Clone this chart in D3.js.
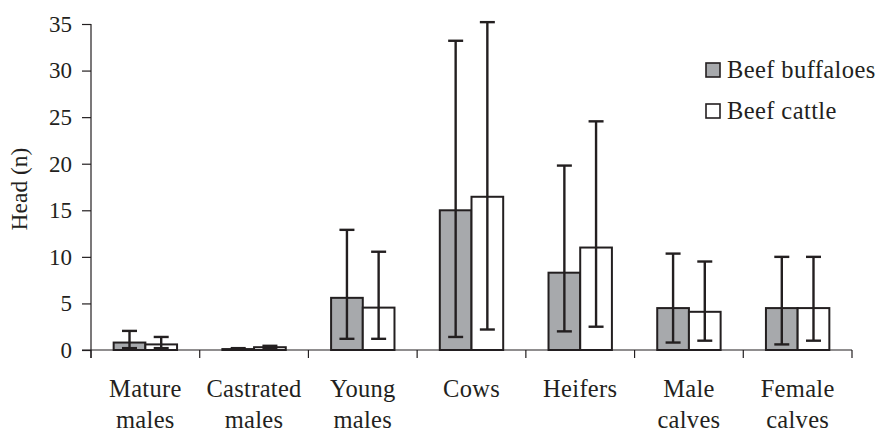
<!DOCTYPE html>
<html>
<head>
<meta charset="utf-8">
<script src="https://cdn.jsdelivr.net/npm/d3@7"></script>
<style>
  html, body { margin: 0; padding: 0; background: #fff; }
  svg { display: block; }
  svg text { font-family: "Liberation Serif", Tinos, "Times New Roman", Times, "DejaVu Serif", serif; fill: #231f20; }
</style>
</head>
<body>
<svg id="chart" width="878" height="432"></svg>
<script>
// Herd composition: mean head count per animal class, with range bars
const categories = [
  ["Mature", "males"], ["Castrated", "males"], ["Young", "males"],
  ["Cows"], ["Heifers"], ["Male", "calves"], ["Female", "calves"]
];
const seriesNames = ["Beef buffaloes", "Beef cattle"];
const buffaloes     = [0.8, 0.1, 5.6, 15.0, 8.3, 4.5, 4.5];
const buffaloesLow  = [0.2, 0.05, 1.2, 1.4, 2.0, 0.8, 0.6];
const buffaloesHigh = [2.05, 0.2, 12.9, 33.2, 19.8, 10.35, 10.0];
const cattle        = [0.6, 0.3, 4.55, 16.45, 11.0, 4.1, 4.5];
const cattleLow     = [0.2, 0.15, 1.2, 2.2, 2.5, 1.0, 1.0];
const cattleHigh    = [1.4, 0.45, 10.55, 35.2, 24.55, 9.5, 10.0];
const yTicks = [0, 5, 10, 15, 20, 25, 30, 35];

const fills = ["#a7a9ac", "#ffffff"];
const ink = "#231f20";
const serif = '"Liberation Serif", Tinos, "Times New Roman", Times, "DejaVu Serif", serif';

const svg = d3.select("#chart");
const mLeft = 91, mRight = 852, mTop = 24, mBottom = 350;

const keys = categories.map(c => c.join(" "));
const x = d3.scaleBand().domain(keys).range([mLeft, mRight]).padding(0);
const x1 = d3.scaleBand().domain(seriesNames).range([0, x.bandwidth()])
  .paddingInner(0).paddingOuter(0.715);
const y = d3.scaleLinear().domain([0, 35]).range([mBottom, mTop]);

const rows = keys.map((k, i) => ({
  key: k,
  values: [
    { s: seriesNames[0], v: buffaloes[i], lo: buffaloesLow[i], hi: buffaloesHigh[i] },
    { s: seriesNames[1], v: cattle[i], lo: cattleLow[i], hi: cattleHigh[i] }
  ]
}));

// Bars
const groups = svg.append("g").selectAll("g").data(rows).join("g")
  .attr("transform", d => `translate(${x(d.key)},0)`);

groups.selectAll("rect").data(d => d.values).join("rect")
  .attr("x", d => x1(d.s))
  .attr("y", d => y(d.v))
  .attr("width", x1.bandwidth())
  .attr("height", d => y(0) - y(d.v))
  .attr("fill", (d, i) => fills[i])
  .attr("stroke", ink)
  .attr("stroke-width", 2);

// Range bars
const capHalf = 7.5;
const cx = d => x1(d.s) + x1.bandwidth() / 2;
const eb = groups.selectAll("g.err").data(d => d.values).join("g").attr("class", "err")
  .attr("stroke", ink).attr("stroke-width", 2.4);
eb.append("line")
  .attr("x1", cx).attr("x2", cx)
  .attr("y1", d => y(d.lo)).attr("y2", d => y(d.hi));
eb.append("line")
  .attr("x1", d => cx(d) - capHalf).attr("x2", d => cx(d) + capHalf)
  .attr("y1", d => y(d.hi)).attr("y2", d => y(d.hi));
eb.append("line")
  .attr("x1", d => cx(d) - capHalf).attr("x2", d => cx(d) + capHalf)
  .attr("y1", d => y(d.lo)).attr("y2", d => y(d.lo));

// Y axis
const yAxis = svg.append("g").attr("transform", `translate(${mLeft},0)`)
  .call(d3.axisLeft(y).tickValues(yTicks).tickSize(9).tickPadding(10));
yAxis.attr("font-family", serif);
yAxis.select(".domain").attr("d", `M0,${mTop}V${mBottom + 8}`);
yAxis.selectAll("line, path").attr("stroke", ink).attr("stroke-width", 1.2);
yAxis.selectAll("text").attr("font-size", 23).attr("fill", ink);

// X axis: ticks at category boundaries
const xEdges = keys.map(k => x(k)).concat([x(keys[keys.length - 1]) + x.bandwidth()]);
const xAxis = svg.append("g").attr("transform", `translate(0,${mBottom})`);
xAxis.append("line").attr("x1", mLeft - 9).attr("x2", mRight).attr("y1", 0).attr("y2", 0)
  .attr("stroke", ink).attr("stroke-width", 1.2);
xAxis.selectAll("line.tick").data(xEdges).join("line").attr("class", "tick")
  .attr("x1", d => d).attr("x2", d => d).attr("y1", 0).attr("y2", 8)
  .attr("stroke", ink).attr("stroke-width", 1.2);

// Category labels
const lbl = svg.append("g").selectAll("text").data(rows).join("text")
  .attr("text-anchor", "middle")
  .attr("font-size", 24.5)
  .attr("letter-spacing", 0.3)
  .attr("x", d => x(d.key) + x.bandwidth() / 2)
  .attr("y", 397);
lbl.selectAll("tspan").data((d, i) => categories[i]).join("tspan")
  .attr("x", function () { return d3.select(this.parentNode).attr("x"); })
  .attr("dy", (d, i) => i === 0 ? 0 : 31)
  .text(d => d);

// Y axis title
svg.append("text")
  .attr("transform", `translate(27,${(mTop + mBottom) / 2 + 2}) rotate(-90)`)
  .attr("text-anchor", "middle")
  .attr("font-size", 23.5)
  .text("Head (n)");

// Legend
const legend = svg.append("g").selectAll("g").data(seriesNames).join("g")
  .attr("transform", (d, i) => `translate(706,${63 + i * 41})`);
legend.append("rect").attr("width", 14).attr("height", 14)
  .attr("fill", (d, i) => fills[i]).attr("stroke", ink).attr("stroke-width", 1.6);
legend.append("text").attr("x", 21).attr("y", 15).attr("font-size", 24.5)
  .attr("letter-spacing", 0.4)
  .text(d => d);
</script>
</body>
</html>
